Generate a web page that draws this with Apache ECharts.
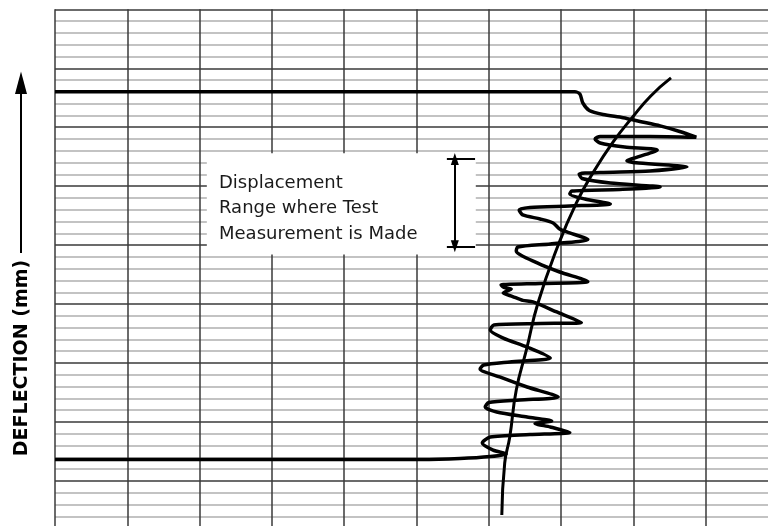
<!DOCTYPE html>
<html>
<head>
<meta charset="utf-8">
<title>Deflection record</title>
<script src="https://cdn.jsdelivr.net/npm/echarts@6/dist/echarts.min.js"></script>
<style>
html, body { margin: 0; padding: 0; background: #fff; }
#chart { width: 768px; height: 526px; }
</style>
</head>
<body>
<div id="chart"></div>
<script>
// recorded trace: x = chart travel (10 per grid column), y = deflection (1 per minor line)
var traceX = [0, 71.9, 72.6, 73.0, 73.9, 75.8, 78.6, 80.9, 83.7, 86.4, 88.7,
	82.3, 75.4, 74.7, 75.4, 78.8, 83.3, 79.1, 87.4, 82.3, 75.4, 72.5, 72.9,
	76.8, 83.7, 78.1, 71.5, 71.2, 73.3, 76.8, 71.2, 65.7, 64.2, 64.7, 67.1,
	68.9, 69.8, 70.8, 73.7, 68.5, 64.0, 63.8, 66.7, 69.8, 73.7, 67.1, 61.7,
	62.1, 63.1, 62.0, 63.3, 64.7, 66.1, 69.4, 72.8, 67.1, 60.7, 60.2, 62.0,
	65.3, 68.5, 62.9, 59.3, 58.8, 61.5, 65.3, 69.6, 64.3, 60.0, 59.5, 61.1,
	65.3, 68.7, 66.4, 68.5, 71.2, 65.7, 60.2, 59.1, 60.6, 62.4, 60.2, 56.0,
	50.5, 0];
var traceY = [38.0, 38.0, 37.82, 37.06, 36.42, 36.08, 35.81, 35.49, 35.11, 34.64, 34.15,
	34.22, 34.22, 34.0, 33.66, 33.32, 33.07, 32.14, 31.63, 31.29, 31.16, 31.03, 30.65,
	30.27, 29.93, 29.72, 29.59, 29.34, 28.91, 28.49, 28.32, 28.19, 27.98, 27.56, 27.22,
	26.88, 26.37, 26.12, 25.48, 25.10, 24.84, 24.50, 23.49, 22.72, 21.92, 21.75, 21.62,
	21.41, 21.28, 20.94, 20.64, 20.31, 20.18, 19.33, 18.44, 18.35, 18.23, 17.80, 17.12,
	16.36, 15.43, 15.09, 14.83, 14.50, 13.82, 12.97, 12.12, 11.87, 11.65, 11.27, 10.85,
	10.42, 10.08, 9.87, 9.58, 9.11, 8.94, 8.73, 8.22, 7.62, 7.29, 7.07, 6.90,
	6.82, 6.82];

// fitted line through the oscillation
var fitX = [61.8, 62.2, 62.9, 63.8, 65.2, 66.8, 69.6, 72.1, 74.4, 77.2, 79.9, 82.4, 85.2];
var fitY = [2.11, 6.52, 8.73, 12.71, 16.11, 20.09, 25.01, 28.57, 31.12, 33.75, 35.87, 37.65, 39.18];

var noteLines = ['Displacement', 'Range where Test', 'Measurement is Made'];
var axisTitle = 'DEFLECTION (mm)';

function zip(xs, ys) {
	var out = [];
	for (var i = 0; i < xs.length; i++) {
		out.push([xs[i], ys[i]]);
	}
	return out;
}

var myChart = echarts.init(document.getElementById('chart'), null, { renderer: 'canvas' });

var graphics = [];
// note text inside the white box
for (var i = 0; i < noteLines.length; i++) {
	graphics.push({
		type: 'text',
		x: 219,
		y: 183 + i * 25.5,
		z: 100,
		style: {
			text: noteLines[i],
			fill: '#1a1a1a',
			font: '18px "DejaVu Sans"',
			align: 'left',
			verticalAlign: 'middle'
		}
	});
}
// axis title with arrow
graphics.push({
	type: 'text',
	x: 22,
	y: 358,
	rotation: Math.PI / 2,
	z: 100,
	style: {
		text: axisTitle,
		fill: '#000',
		font: 'bold 19px "DejaVu Sans"',
		align: 'center',
		verticalAlign: 'middle'
	}
});
graphics.push({
	type: 'line',
	z: 100,
	shape: { x1: 21, y1: 253, x2: 21, y2: 88 },
	style: { stroke: '#000', lineWidth: 2 }
});
graphics.push({
	type: 'polygon',
	z: 100,
	shape: { points: [[21, 71.5], [15, 94], [27, 94]] },
	style: { fill: '#000' }
});

var option = {
	animation: false,
	backgroundColor: '#fff',
	grid: {
		left: 55,
		top: 9.3,
		width: 723,
		height: 530.6,
		outerBoundsMode: 'none'
	},
	xAxis: {
		type: 'value',
		min: 0,
		max: 100,
		interval: 10,
		axisLine: { show: false },
		axisTick: { show: false },
		axisLabel: { show: false },
		splitLine: { show: true, lineStyle: { color: '#3a3a3a', width: 1.5 } }
	},
	yAxis: {
		type: 'value',
		min: 0,
		max: 45,
		interval: 5,
		axisLine: { show: false },
		axisTick: { show: false },
		axisLabel: { show: false },
		minorTick: { show: false, splitNumber: 5 },
		minorSplitLine: { show: true, lineStyle: { color: '#b0b0b0', width: 1.5 } },
		splitLine: { show: true, lineStyle: { color: '#3a3a3a', width: 1.5 } }
	},
	series: [{
		name: 'trace',
		type: 'line',
		data: zip(traceX, traceY),
		symbol: 'none',
		smooth: 0.25,
		lineStyle: { color: '#000', width: 3.5 },
		silent: true
	}, {
		name: 'fit',
		type: 'line',
		data: zip(fitX, fitY),
		symbol: 'none',
		smooth: 0.5,
		lineStyle: { color: '#000', width: 3 },
		silent: true,
		markArea: {
			silent: true,
			itemStyle: { color: '#fff', opacity: 1 },
			label: { show: false },
			data: [[{ coord: [21, 32.8] }, { coord: [58.2, 24.2] }]]
		},
		markLine: {
			silent: true,
			label: { show: false },
			lineStyle: { color: '#000', width: 2, type: 'solid' },
			symbol: ['none', 'none'],
			data: [
				[{ coord: [55.3, 32.3], symbol: 'triangle', symbolSize: [8, 12] },
				 { coord: [55.3, 24.9], symbol: 'triangle', symbolSize: [8, 12] }],
				[{ coord: [54.2, 32.3] }, { coord: [58.1, 32.3] }],
				[{ coord: [54.2, 24.9] }, { coord: [58.1, 24.9] }]
			]
		}
	}],
	graphic: graphics
};

myChart.setOption(option);
</script>
</body>
</html>
